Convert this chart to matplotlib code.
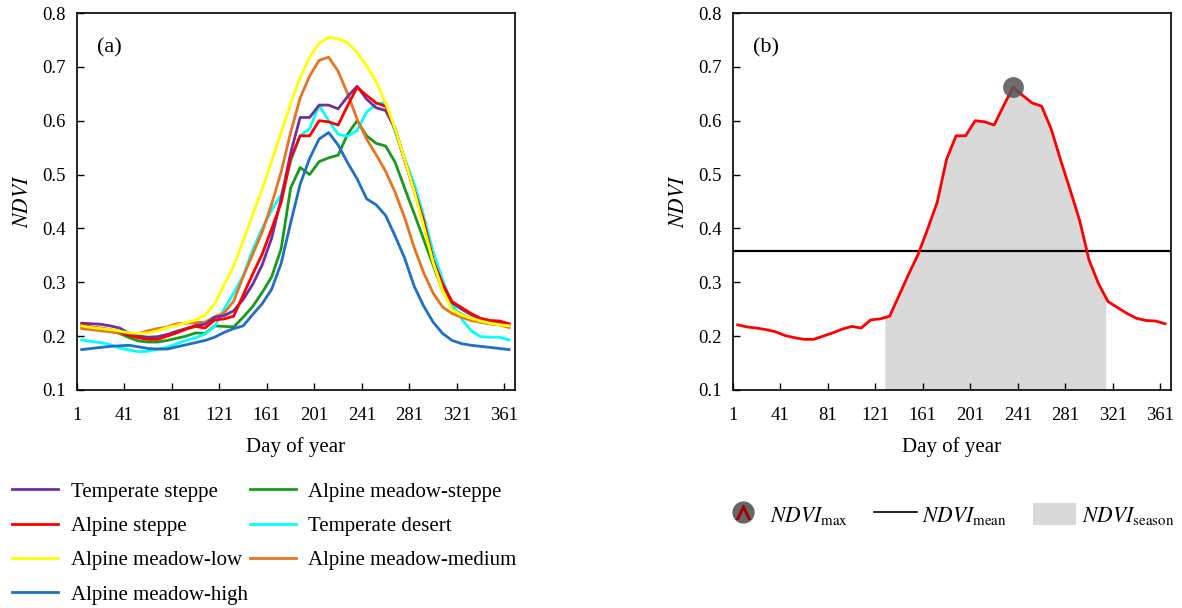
import matplotlib
matplotlib.use('Agg')
import matplotlib.pyplot as plt
import numpy as np
from matplotlib.lines import Line2D
from matplotlib.patches import Patch
from matplotlib.legend_handler import HandlerTuple

plt.rcParams['font.family'] = ['Liberation Serif', 'DejaVu Serif']
plt.rcParams['mathtext.fontset'] = 'stix'

# 8-day composites, day of year
days = [5, 13, 21, 29, 37, 45, 53, 61, 69, 77, 85, 93, 101, 109, 117, 125,
        133, 141, 149, 157, 165, 173, 181, 189, 197, 205, 213, 221, 229, 237,
        245, 253, 261, 269, 277, 285, 293, 301, 309, 317, 325, 333, 341, 349,
        357, 365]

temperate_steppe = [0.224, 0.223, 0.222, 0.219, 0.215, 0.205, 0.200, 0.198, 0.199, 0.203,
                    0.209, 0.214, 0.220, 0.222, 0.235, 0.238, 0.247, 0.268, 0.296, 0.332,
                    0.382, 0.455, 0.540, 0.606, 0.606, 0.629, 0.629, 0.622, 0.645, 0.664,
                    0.640, 0.624, 0.619, 0.585, 0.527, 0.470, 0.410, 0.340, 0.295, 0.262,
                    0.250, 0.240, 0.232, 0.228, 0.226, 0.222]
alpine_steppe = [0.221, 0.217, 0.215, 0.212, 0.208, 0.201, 0.197, 0.194, 0.194, 0.200,
                 0.206, 0.213, 0.218, 0.215, 0.230, 0.232, 0.237, 0.276, 0.315, 0.352,
                 0.399, 0.448, 0.529, 0.572, 0.572, 0.600, 0.598, 0.592, 0.628, 0.662,
                 0.647, 0.633, 0.627, 0.585, 0.527, 0.472, 0.415, 0.341, 0.297, 0.264,
                 0.253, 0.242, 0.233, 0.229, 0.228, 0.223]
meadow_low = [0.219, 0.216, 0.214, 0.212, 0.209, 0.206, 0.205, 0.206, 0.210, 0.216,
              0.220, 0.225, 0.230, 0.239, 0.260, 0.295, 0.330, 0.377, 0.425, 0.473,
              0.525, 0.578, 0.632, 0.680, 0.718, 0.744, 0.755, 0.752, 0.745, 0.727,
              0.702, 0.673, 0.633, 0.585, 0.528, 0.470, 0.405, 0.337, 0.285, 0.249,
              0.239, 0.233, 0.228, 0.224, 0.221, 0.219]
meadow_high = [0.175, 0.177, 0.179, 0.181, 0.182, 0.183, 0.180, 0.177, 0.176, 0.176,
               0.180, 0.184, 0.188, 0.192, 0.198, 0.207, 0.214, 0.219, 0.240, 0.260,
               0.287, 0.335, 0.410, 0.482, 0.530, 0.566, 0.578, 0.555, 0.522, 0.492,
               0.455, 0.444, 0.424, 0.386, 0.345, 0.293, 0.256, 0.226, 0.205, 0.192,
               0.186, 0.183, 0.181, 0.179, 0.177, 0.175]
meadow_steppe = [0.218, 0.215, 0.212, 0.209, 0.205, 0.197, 0.191, 0.189, 0.189, 0.192,
                 0.196, 0.200, 0.206, 0.205, 0.219, 0.218, 0.217, 0.235, 0.255, 0.281,
                 0.310, 0.362, 0.475, 0.513, 0.500, 0.524, 0.531, 0.536, 0.575, 0.600,
                 0.572, 0.558, 0.553, 0.523, 0.475, 0.428, 0.380, 0.332, 0.285, 0.252,
                 0.240, 0.233, 0.226, 0.223, 0.221, 0.219]
temperate_desert = [0.193, 0.190, 0.188, 0.184, 0.178, 0.174, 0.171, 0.172, 0.176, 0.179,
                    0.186, 0.192, 0.197, 0.204, 0.218, 0.250, 0.280, 0.312, 0.360, 0.400,
                    0.434, 0.462, 0.523, 0.572, 0.585, 0.629, 0.600, 0.575, 0.571, 0.582,
                    0.616, 0.631, 0.634, 0.579, 0.530, 0.483, 0.424, 0.357, 0.305, 0.260,
                    0.232, 0.210, 0.199, 0.198, 0.198, 0.193]
meadow_medium = [0.214, 0.212, 0.210, 0.208, 0.206, 0.204, 0.205, 0.210, 0.214, 0.217,
                 0.223, 0.224, 0.225, 0.226, 0.236, 0.243, 0.265, 0.310, 0.352, 0.393,
                 0.445, 0.505, 0.578, 0.642, 0.683, 0.712, 0.718, 0.692, 0.650, 0.603,
                 0.566, 0.537, 0.506, 0.467, 0.420, 0.365, 0.318, 0.280, 0.254, 0.242,
                 0.235, 0.229, 0.226, 0.223, 0.221, 0.216]

# legend order (column by column)
series = [
    ('Temperate steppe', temperate_steppe, '#7030A0'),
    ('Alpine steppe', alpine_steppe, '#FF0000'),
    ('Alpine meadow-low', meadow_low, '#FFFF00'),
    ('Alpine meadow-high', meadow_high, '#1F6FC5'),
    ('Alpine meadow-steppe', meadow_steppe, '#1A9A1A'),
    ('Temperate desert', temperate_desert, '#00FFFF'),
    ('Alpine meadow-medium', meadow_medium, '#E8741F'),
]
draw_order = [4, 5, 3, 6, 0, 1, 2]

ndvi_mean = 0.358
season_start, season_end = 129, 315
xticks = [1, 41, 81, 121, 161, 201, 241, 281, 321, 361]
yticks = [0.1, 0.2, 0.3, 0.4, 0.5, 0.6, 0.7, 0.8]

fig = plt.figure(figsize=(11.82, 6.08), dpi=100)
ax1 = fig.add_axes([0.0651, 0.3586, 0.3706, 0.62])
ax2 = fig.add_axes([0.6201, 0.3586, 0.3706, 0.62])


def style_axis(ax, label):
    ax.set_xlim(1, 370)
    ax.set_ylim(0.1, 0.8)
    ax.set_xticks(xticks)
    ax.set_yticks(yticks)
    ax.set_yticklabels([f'{t:.1f}' for t in yticks])
    ax.tick_params(direction='in', length=5, width=1, labelsize=13.5)
    ax.tick_params(axis='x', pad=12)
    ax.tick_params(axis='y', pad=8)
    ax.set_xlabel('Day of year', fontsize=15, labelpad=10)
    ax.set_ylabel(r'$\mathit{NDVI}$', fontsize=15.5, labelpad=7)
    for s in ax.spines.values():
        s.set_linewidth(1.2)
    ax.text(0.045, 0.907, label, transform=ax.transAxes, fontsize=16,
            va='center', ha='left')


# (a)
handles = [None] * len(series)
for i in draw_order:
    name, vals, col = series[i]
    handles[i], = ax1.plot(days, vals, color=col, lw=2.0, label=name)
style_axis(ax1, '(a)')

fig.legend(handles=handles, loc='upper left', bbox_to_anchor=(0.0034, 0.221),
           ncol=2, frameon=False, fontsize=15, handlelength=2.2,
           handletextpad=0.6, columnspacing=0.1, labelspacing=0.71,
           borderaxespad=0)

# (b)
d = np.array(days, dtype=float)
v = np.array(alpine_steppe)
xs = np.linspace(season_start, season_end, 400)
ax2.fill_between(xs, 0.1, np.interp(xs, d, v), color='#D9D9D9', lw=0)
ax2.axhline(ndvi_mean, color='black', lw=1.6)
ax2.plot(days, alpine_steppe, color='#FF0000', lw=2.0)
imax = int(np.argmax(v))
ax2.plot(days[imax], alpine_steppe[imax], 'o', color='#555555', alpha=0.85,
         markersize=15, markeredgewidth=0)
style_axis(ax2, '(b)')

h_max = (Line2D([], [], marker='o', color='#666666', markersize=15, lw=0),
         Line2D([], [], marker=r'$\wedge$', color='#A00000', markersize=10, lw=0))
h_mean = Line2D([], [], color='black', lw=1.2)
h_season = Patch(facecolor='#D9D9D9', edgecolor='none')
fig.legend([h_max, h_mean, h_season],
           [r'$\mathit{NDVI}_{\mathrm{max}}$', r'$\mathit{NDVI}_{\mathrm{mean}}$',
            r'$\mathit{NDVI}_{\mathrm{season}}$'],
           handler_map={tuple: HandlerTuple()},
           loc='center left', bbox_to_anchor=(0.603, 0.153), ncol=3,
           frameon=False, fontsize=15.5, handlelength=2.0, handleheight=1.2,
           handletextpad=0.25, columnspacing=1.2, borderaxespad=0)

fig.savefig('out.png', dpi=100)
